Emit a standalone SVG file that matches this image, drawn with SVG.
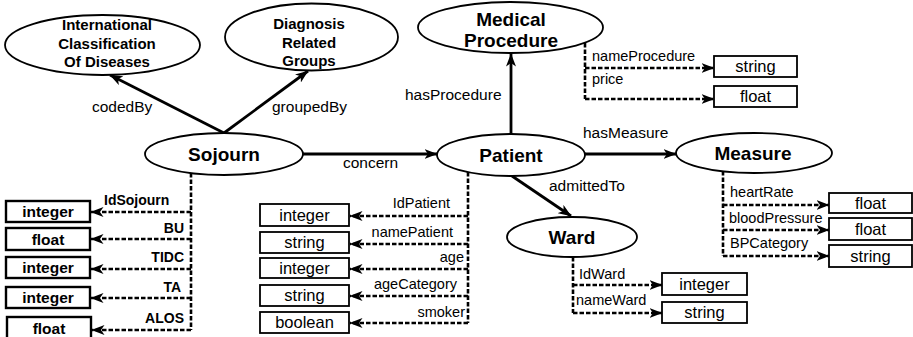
<svg xmlns="http://www.w3.org/2000/svg" width="913" height="337" viewBox="0 0 913 337">
  <style>
    .node ellipse { fill: #fff; stroke: #000; stroke-width: 1.8; }
    .title { font-family: "Liberation Sans", Arial, sans-serif; font-weight: bold; font-size: 19px; text-anchor: middle; fill: #000; }
    .title2 { font-family: "Liberation Sans", Arial, sans-serif; font-weight: bold; font-size: 15px; text-anchor: middle; fill: #000; }
    .edge { stroke: #000; stroke-width: 2.8; fill: none; marker-end: url(#arr); }
    .attr { stroke: #000; stroke-width: 2.6; fill: none; stroke-dasharray: 4.5 2; }
    .attr-arrow { marker-end: url(#arr); }
    .elabel { font-family: "Liberation Sans", Arial, sans-serif; font-size: 15.5px; fill: #000; }
    .alabel { font-family: "Liberation Sans", Arial, sans-serif; font-size: 14.5px; fill: #000; }
    .alabel.b { font-weight: bold; font-size: 14px; }
    .type rect { fill: #fff; stroke: #000; stroke-width: 1.8; }
    .type text { font-family: "Liberation Sans", Arial, sans-serif; font-size: 16.5px; text-anchor: middle; fill: #000; }
    .type.b rect { stroke-width: 2.4; }
    .type.b text { font-weight: bold; font-size: 15.5px; }
  </style>
  <defs>
    <marker id="arr" viewBox="0 0 13 10" refX="12.5" refY="5" markerWidth="13" markerHeight="10" markerUnits="userSpaceOnUse" orient="auto">
      <path d="M0,0 L13,5 L0,10 L3.5,5 Z" fill="#000"/>
    </marker>
  </defs>

  <!-- object properties between classes -->
  <g id="connectors">
    <path class="edge" d="M224,133 L110,75"/>
    <path class="edge" d="M224,133 L308,71"/>
    <path class="edge" d="M303,154 L437,154"/>
    <path class="edge" d="M511,134 L511,54"/>
    <path class="edge" d="M585,154 L676,154"/>
    <path class="edge" d="M512,176 L571,216"/>
    <text class="elabel" x="92" y="112">codedBy</text>
    <text class="elabel" x="272" y="112">groupedBy</text>
    <text class="elabel" x="343" y="168">concern</text>
    <text class="elabel" x="405" y="100">hasProcedure</text>
    <text class="elabel" x="583" y="138">hasMeasure</text>
    <text class="elabel" x="549" y="191">admittedTo</text>

    <!-- Sojourn datatype properties -->
    <path class="attr" d="M191,173 V330"/>
    <path class="attr attr-arrow" d="M191,212 H91"/>
    <path class="attr attr-arrow" d="M191,239 H91"/>
    <path class="attr attr-arrow" d="M191,269 H91"/>
    <path class="attr attr-arrow" d="M191,298 H91"/>
    <path class="attr attr-arrow" d="M191,330 H92"/>
    <text class="alabel b" x="104" y="205">IdSojourn</text>
    <text class="alabel b" x="184" y="233" text-anchor="end">BU</text>
    <text class="alabel b" x="184" y="262" text-anchor="end">TIDC</text>
    <text class="alabel b" x="181" y="292" text-anchor="end">TA</text>
    <text class="alabel b" x="184" y="323" text-anchor="end">ALOS</text>

    <!-- Patient datatype properties -->
    <path class="attr" d="M468,172 V323"/>
    <path class="attr attr-arrow" d="M468,216 H350"/>
    <path class="attr attr-arrow" d="M468,244 H350"/>
    <path class="attr attr-arrow" d="M468,269 H350"/>
    <path class="attr attr-arrow" d="M468,296 H350"/>
    <path class="attr attr-arrow" d="M468,323 H350"/>
    <text class="alabel" x="450" y="208" text-anchor="end">IdPatient</text>
    <text class="alabel" x="453" y="237" text-anchor="end">namePatient</text>
    <text class="alabel" x="464" y="262" text-anchor="end">age</text>
    <text class="alabel" x="457" y="289" text-anchor="end">ageCategory</text>
    <text class="alabel" x="465" y="317" text-anchor="end">smoker</text>

    <!-- Medical Procedure datatype properties -->
    <path class="attr" d="M585,43 V99"/>
    <path class="attr attr-arrow" d="M585,68 H714"/>
    <path class="attr attr-arrow" d="M585,99 H714"/>
    <text class="alabel" x="592" y="61">nameProcedure</text>
    <text class="alabel" x="592" y="84">price</text>

    <!-- Measure datatype properties -->
    <path class="attr" d="M723,171 V256"/>
    <path class="attr attr-arrow" d="M723,205 H829"/>
    <path class="attr attr-arrow" d="M723,230 H829"/>
    <path class="attr attr-arrow" d="M723,256 H829"/>
    <text class="alabel" x="730" y="197">heartRate</text>
    <text class="alabel" x="729" y="223">bloodPressure</text>
    <text class="alabel" x="730" y="248">BPCategory</text>

    <!-- Ward datatype properties -->
    <path class="attr" d="M573,257 V313"/>
    <path class="attr attr-arrow" d="M573,285 H662"/>
    <path class="attr attr-arrow" d="M573,313 H662"/>
    <text class="alabel" x="579" y="279">IdWard</text>
    <text class="alabel" x="576" y="305">nameWard</text>
  </g>

  <!-- classes -->
  <g id="icd" class="node">
    <ellipse cx="102.5" cy="45" rx="97.5" ry="30"/>
    <text class="title2" x="107" y="30">International</text>
    <text class="title2" x="107" y="49">Classification</text>
    <text class="title2" x="107" y="67">Of Diseases</text>
  </g>
  <g id="drg" class="node">
    <ellipse cx="311.5" cy="37" rx="86.5" ry="33.5"/>
    <text class="title2" x="309" y="29">Diagnosis</text>
    <text class="title2" x="309" y="48">Related</text>
    <text class="title2" x="309" y="66">Groups</text>
  </g>
  <g id="sojourn" class="node">
    <ellipse cx="224" cy="154" rx="79" ry="21"/>
    <text class="title" x="224" y="161">Sojourn</text>
  </g>
  <g id="medical-procedure" class="node">
    <ellipse cx="510.5" cy="27.5" rx="92.5" ry="25.5"/>
    <text class="title" x="511" y="26">Medical</text>
    <text class="title" x="511" y="47">Procedure</text>
  </g>
  <g id="patient" class="node">
    <ellipse cx="511" cy="155" rx="74" ry="21"/>
    <text class="title" x="511" y="162">Patient</text>
  </g>
  <g id="measure" class="node">
    <ellipse cx="754" cy="153" rx="78" ry="20"/>
    <text class="title" x="753" y="160">Measure</text>
  </g>
  <g id="ward" class="node">
    <ellipse cx="572" cy="237" rx="65" ry="20"/>
    <text class="title" x="572" y="244">Ward</text>
  </g>

  <!-- datatypes -->
  <g id="sojourn-types">
    <g class="type b"><rect x="6" y="201" width="84" height="21"/><text x="48" y="217">integer</text></g>
    <g class="type b"><rect x="6" y="228" width="84" height="22"/><text x="48" y="245">float</text></g>
    <g class="type b"><rect x="6" y="257" width="84" height="21"/><text x="48" y="273">integer</text></g>
    <g class="type b"><rect x="6" y="287" width="84" height="21"/><text x="48" y="303">integer</text></g>
    <g class="type b"><rect x="7" y="317" width="84" height="22"/><text x="49" y="334">float</text></g>
  </g>
  <g id="patient-types">
    <g class="type"><rect x="260" y="204" width="89" height="22"/><text x="304.5" y="221">integer</text></g>
    <g class="type"><rect x="260" y="232" width="89" height="21"/><text x="304.5" y="248">string</text></g>
    <g class="type"><rect x="260" y="258" width="89" height="20"/><text x="304.5" y="274">integer</text></g>
    <g class="type"><rect x="260" y="285" width="89" height="21"/><text x="304.5" y="301">string</text></g>
    <g class="type"><rect x="260" y="312" width="89" height="21"/><text x="304.5" y="328">boolean</text></g>
  </g>
  <g id="procedure-types">
    <g class="type"><rect x="714" y="56" width="83" height="21"/><text x="755.5" y="72">string</text></g>
    <g class="type"><rect x="714" y="86" width="83" height="21"/><text x="755.5" y="102">float</text></g>
  </g>
  <g id="measure-types">
    <g class="type"><rect x="829" y="193" width="83" height="20"/><text x="870.5" y="209">float</text></g>
    <g class="type"><rect x="829" y="218" width="83" height="22"/><text x="870.5" y="235">float</text></g>
    <g class="type"><rect x="829" y="245" width="83" height="22"/><text x="870.5" y="262">string</text></g>
  </g>
  <g id="ward-types">
    <g class="type"><rect x="662" y="273" width="85" height="22"/><text x="704.5" y="290">integer</text></g>
    <g class="type"><rect x="662" y="302" width="85" height="21"/><text x="704.5" y="318">string</text></g>
  </g>
</svg>
